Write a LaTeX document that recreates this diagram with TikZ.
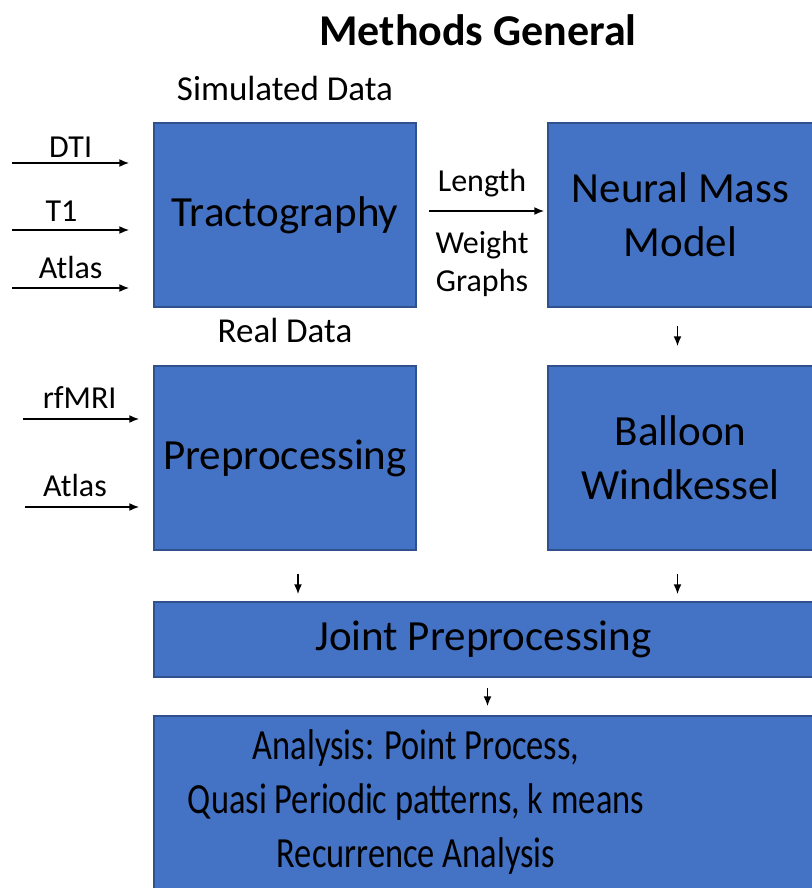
\documentclass[tikz,border=0pt]{standalone}
\usepackage{fontspec}
\setmainfont{Carlito}
\usetikzlibrary{arrows.meta, positioning}
\definecolor{stage area}{HTML}{4472C4}
\definecolor{stage edge}{HTML}{2F528F}
\tikzset{
  stage/.style={fill=stage area, draw=stage edge, line width=1.5pt, align=center,
    inner sep=0pt, font=\fontsize{43}{54}\selectfont},
  inlabel/.style={inner sep=2pt, font=\fontsize{32}{38}\selectfont, align=center},
  header/.style={inner sep=2pt, font=\fontsize{35}{42}\selectfont}
}

\begin{document}
\begin{tikzpicture}[x=1pt, y=-1pt]
	\tikzstyle{arrowline}=[draw, -{Latex[length=10pt, width=8pt]}, line width=1.6pt]
	\useasboundingbox (0,0) rectangle (811,888);

	\node[font=\fontsize{44}{50}\selectfont\bfseries] (title) at (478,30) {Methods General};

	% simulation branch
	\node[stage, minimum width=262pt, minimum height=184pt] (trac) at (285,215) {Tractography};
	\node[stage, minimum width=265pt, minimum height=184pt] (nmm) at (680.5,215) {Neural Mass\\Model};
	\node[stage, minimum width=265pt, minimum height=184pt] (bw) at (680.5,458) {Balloon\\Windkessel};

	% real data branch
	\node[stage, minimum width=262pt, minimum height=184pt] (prep) at (285,458) {Preprocessing};

	\node[stage, minimum width=659pt, minimum height=75pt] (joint) at (483.5,639.5) {Joint Preprocessing};
	\node[stage, minimum width=659pt, minimum height=176pt] (anal) at (483.5,804) {};
	\node[stage, fill=none, draw=none, xscale=0.8, transform shape] (analtxt) at (416,802)
		{Analysis: Point Process,\hspace{0.4em}\\Quasi Periodic patterns, k means\\Recurrence Analysis};

	\node[header, above=19pt of trac] (sim) {Simulated Data};
	\node[header, above=20pt of prep] (real) {Real Data};

	% inputs
	\coordinate (dti) at (12,163);
	\coordinate (tone) at (12,230);
	\coordinate (atl) at (12,288);
	\coordinate (rf) at (23,419);
	\coordinate (atlb) at (25,507);

	\path[arrowline, shorten >=24pt] (dti) -- (dti -| trac.west) node[inlabel, pos=0.415, above=3pt] {DTI};
	\path[arrowline, shorten >=24pt] (tone) -- (tone -| trac.west) node[inlabel, pos=0.35, above=6pt] {T1};
	\path[arrowline, shorten >=24pt] (atl) -- (atl -| trac.west) node[inlabel, pos=0.415, above=6pt] {Atlas};
	\path[arrowline, shorten >=14pt] (rf) -- (rf -| prep.west) node[inlabel, pos=0.435, above=8pt] {rfMRI};
	\path[arrowline, shorten >=14pt] (atlb) -- (atlb -| prep.west) node[inlabel, pos=0.39, above=7pt] {Atlas};

	\path[arrowline, shorten <=12pt, shorten >=3pt] ([yshift=4pt]trac.east) -- ([yshift=4pt]nmm.west)
		node[inlabel, midway, above=11pt] {Length}
		node[inlabel, midway, below=17pt] {Weight\\Graphs};

	\path[arrowline] ([xshift=-3pt, yshift=-18pt]nmm.south) -- ([xshift=-3pt, yshift=19pt]bw.north);
	\path[arrowline] ([xshift=13pt, yshift=-23pt]prep.south) -- ([xshift=13pt, yshift=7pt]prep.south |- joint.north);
	\path[arrowline] ([xshift=-3pt, yshift=-23pt]bw.south) -- ([xshift=-3pt, yshift=7pt]bw.south |- joint.north);
	\path[arrowline] ([xshift=4pt, yshift=-10pt]joint.south) -- ([xshift=4pt, yshift=9pt]anal.north);
\end{tikzpicture}
\end{document}
